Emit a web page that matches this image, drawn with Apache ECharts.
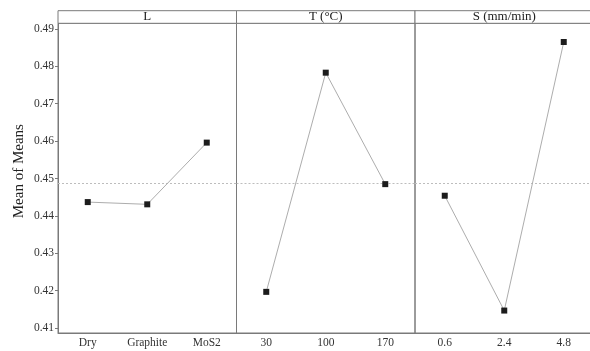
<!DOCTYPE html>
<html>
<head>
<meta charset="utf-8">
<script src="https://cdn.jsdelivr.net/npm/echarts@6/dist/echarts.min.js"></script>
<style>html,body{margin:0;padding:0;background:#fff;overflow:hidden;}#c{width:597px;height:351px;}</style>
</head>
<body>
<div id="c"></div>
<script>
const panelTitles = ['L', 'T (°C)', 'S (mm/min)'];
const L_levels = ['Dry', 'Graphite', 'MoS2'];
const L_means = [0.4437, 0.4431, 0.4596];
const T_levels = ['30', '100', '170'];
const T_means = [0.4197, 0.4783, 0.4485];
const S_levels = ['0.6', '2.4', '4.8'];
const S_means = [0.4454, 0.4147, 0.4865];
const yTicks = [0.41, 0.42, 0.43, 0.44, 0.45, 0.46, 0.47, 0.48, 0.49];
const yName = 'Mean of Means';

const levels = [L_levels, T_levels, S_levels];
const means = [L_means, T_means, S_means];
const all = L_means.concat(T_means, S_means);
const grandMean = all.reduce((a, b) => a + b, 0) / all.length;

const FONT = 'Liberation Serif';
const FRAME = '#7a7a7a';
const gridLeft = 58, panelW = 178.5, gridTop = 23.3, gridBottom = 18, headerTop = 10.7;
const yMin = 0.4087, yMax = 0.4915;

const grids = [], xAxes = [], yAxes = [], series = [], graphics = [];
for (let i = 0; i < 3; i++) {
  const left = gridLeft + i * panelW;
  grids.push({left: left, width: panelW, top: gridTop, bottom: gridBottom, show: true, borderColor: FRAME, borderWidth: 1, containLabel: false});
  xAxes.push({
    gridIndex: i, type: 'category', data: levels[i], boundaryGap: true,
    axisLine: {lineStyle: {color: FRAME}},
    axisTick: {alignWithLabel: true, length: 3, lineStyle: {color: FRAME}},
    axisLabel: {fontFamily: FONT, fontSize: 11.5, color: '#333', margin: 4},
    splitLine: {show: false}
  });
  yAxes.push({
    gridIndex: i, type: 'value', min: yMin, max: yMax, show: i === 0,
    name: i === 0 ? yName : '', nameLocation: 'middle', nameGap: 31,
    nameTextStyle: {fontFamily: FONT, fontSize: 15, color: '#222', padding: [0, 0, 0, 14]},
    axisLine: {show: true, lineStyle: {color: FRAME}},
    axisTick: {show: true, length: 3, customValues: yTicks, lineStyle: {color: FRAME}},
    axisLabel: {fontFamily: FONT, fontSize: 11.5, color: '#333', margin: 4, customValues: yTicks, formatter: v => v.toFixed(2)},
    splitLine: {show: false}
  });
  // grand-mean reference line (drawn beneath the data)
  series.push({
    type: 'line', xAxisIndex: i, yAxisIndex: i, data: means[i], z: 1,
    symbol: 'none', lineStyle: {opacity: 0}, silent: true, animation: false,
    markLine: {
      silent: true, symbol: 'none', animation: false, precision: 6,
      label: {show: false},
      lineStyle: {color: '#bdbdbd', type: [2, 2], width: 1},
      data: [{yAxis: grandMean}]
    }
  });
  series.push({
    type: 'line', xAxisIndex: i, yAxisIndex: i, data: means[i], z: 5,
    symbol: 'rect', symbolSize: 6, showSymbol: true,
    lineStyle: {color: '#adadad', width: 1},
    itemStyle: {color: '#1c1c1c'},
    animation: false, silent: true
  });
  graphics.push({
    type: 'rect', shape: {x: left, y: headerTop, width: panelW, height: gridTop - headerTop},
    style: {fill: '#fff', stroke: FRAME, lineWidth: 1}, silent: true
  });
  graphics.push({
    type: 'text', x: left + panelW / 2, y: (headerTop + gridTop) / 2,
    style: {text: panelTitles[i], fontFamily: FONT, fontSize: 13, fill: '#222', align: 'center', verticalAlign: 'middle'},
    silent: true
  });
}

const chart = echarts.init(document.getElementById('c'), null, {renderer: 'canvas'});
chart.setOption({
  animation: false,
  backgroundColor: '#fff',
  grid: grids, xAxis: xAxes, yAxis: yAxes, series: series,
  graphic: graphics
});
</script>
</body>
</html>
